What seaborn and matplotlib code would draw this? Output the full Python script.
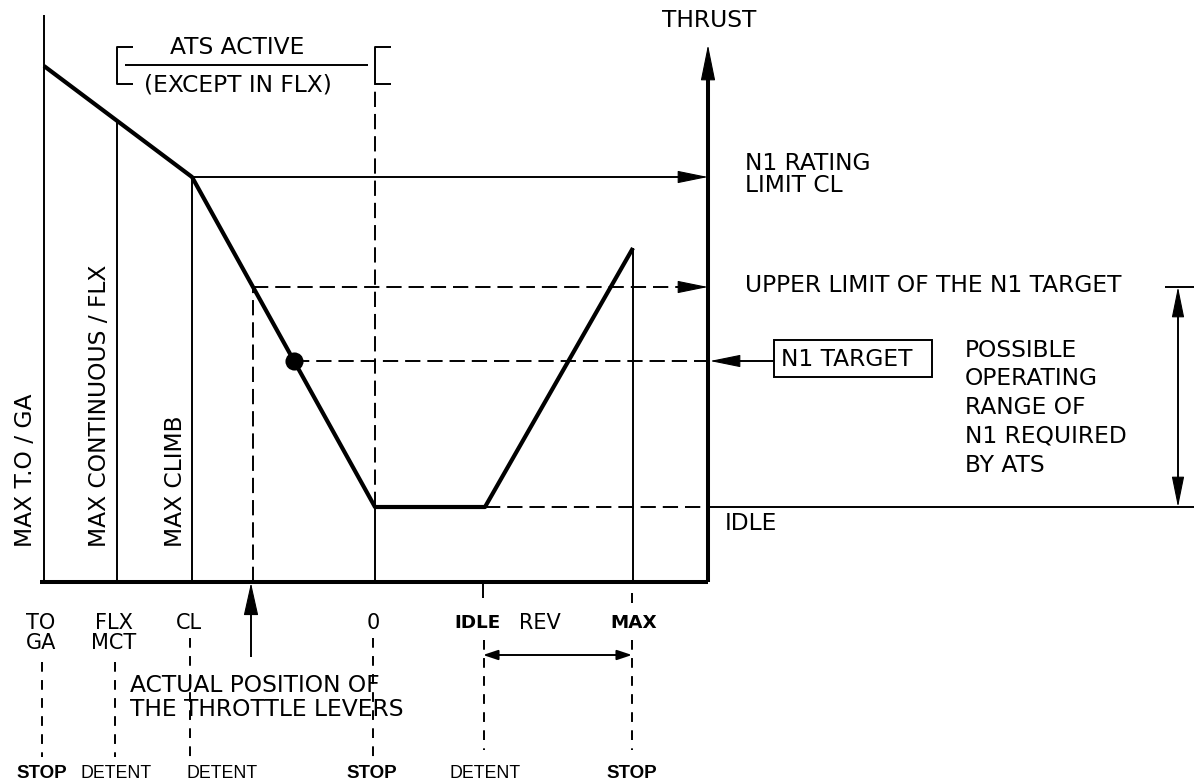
import numpy as np
import matplotlib
matplotlib.use("Agg")
import matplotlib.pyplot as plt
import seaborn as sns
import pandas as pd

# ---------------------------------------------------------------------------
# Data: throttle lever travel (horizontal units) and thrust (vertical units)
# ---------------------------------------------------------------------------
detent_pos = [44, 117, 192, 375, 485, 633]
detent_top = ["TO", "FLX", "CL", "0", "IDLE", "MAX"]
detent_sub = ["GA", "MCT", "", "", "", ""]
detent_kind = ["STOP", "DETENT", "DETENT", "STOP", "DETENT", "STOP"]

# Thrust schedule along the lever travel
curve_pos = [44, 192, 375, 485, 633]
curve_thrust = [516, 405, 75, 75, 334]

n1_rating_cl = 405
n1_upper_limit = 295
n1_target = 221
idle_thrust = 75

rotated_labels = ["MAX T.O / GA", "MAX CONTINUOUS / FLX", "MAX CLIMB"]
range_lines = ["POSSIBLE", "OPERATING", "RANGE OF", "N1 REQUIRED", "BY ATS"]

# ---------------------------------------------------------------------------
sns.set_theme(style="white")
plt.rcParams["font.family"] = ["DejaVu Sans"]
plt.rcParams["text.color"] = "black"
plt.rcParams["lines.scale_dashes"] = False
plt.rcParams["lines.solid_capstyle"] = "butt"

fig = plt.figure(figsize=(11.94, 7.84), dpi=100)
ax = fig.add_axes([0, 0, 1, 1])
ax.set_xlim(0, 1194)
ax.set_ylim(-202, 582)
ax.axis("off")

K = "black"
THIN = 1.4
THICK = 2.9
DASH = (0, (11, 5))
DASH_S = (0, (7, 6))
FS = 16.8
axis_x = 708
axis_top = 537


def thrust_at(x):
    return float(np.interp(x, curve_pos, curve_thrust))


def head(tip, direction, length=27, half=5.5, lw=0.8):
    """Filled arrow head whose tip is at `tip`, pointing along `direction`."""
    d = np.asarray(direction, float)
    d = d / np.hypot(*d)
    start = np.asarray(tip, float) - d * length
    ax.annotate("", xy=tip, xytext=tuple(start),
                arrowprops=dict(arrowstyle=f"-|>,head_length={length*0.72:.2f},head_width={half*0.72:.2f}",
                                mutation_scale=1, lw=lw, fc=K, ec=K,
                                shrinkA=0, shrinkB=0))


# Lever positions where the forward branch of the curve reaches a thrust level
fwd_thrust = curve_thrust[1:3][::-1]
fwd_pos = curve_pos[1:3][::-1]
lever_actual = float(np.interp(n1_upper_limit, fwd_thrust, fwd_pos))
target_pos = float(np.interp(n1_target, fwd_thrust, fwd_pos))

# Thin vertical detent lines above the lever axis
ax.plot([detent_pos[0]] * 2, [0, 567], color=K, lw=THIN)
for x in (detent_pos[1], detent_pos[2], detent_pos[3], detent_pos[5]):
    ax.plot([x, x], [0, thrust_at(x)], color=K, lw=THIN)

# Thrust curve
curve_df = pd.DataFrame({"lever": curve_pos, "thrust": curve_thrust})
sns.lineplot(data=curve_df, x="lever", y="thrust", sort=False, estimator=None,
             color=K, lw=3.0, ax=ax)

# Lever axis and thrust axis
ax.plot([40, axis_x], [0, 0], color=K, lw=THICK)
ax.plot([axis_x, axis_x], [0, axis_top - 30], color=K, lw=THICK)
head((axis_x, axis_top), (0, 1), length=32, half=6.5)

# ATS active bracket (from MCT detent to idle stop)
bx0, bx1 = detent_pos[1], detent_pos[3]
for bx in (bx0, bx1):
    ax.plot([bx + 16, bx, bx, bx + 16], [535, 535, 498, 498], color=K, lw=THIN)
ax.plot([bx0 + 8, bx1 - 7], [517, 517], color=K, lw=THIN)
ax.text(237, 535, "ATS ACTIVE", ha="center", va="center", fontsize=FS)
ax.text(238, 497, "(EXCEPT IN FLX)", ha="center", va="center", fontsize=FS)
ax.plot([bx1, bx1], [idle_thrust, 498], color=K, lw=THIN, ls=DASH)

# N1 rating limit CL
ax.plot([curve_pos[1], axis_x - 26], [n1_rating_cl] * 2, color=K, lw=THIN)
head((axis_x, n1_rating_cl), (1, 0))

# Upper limit of the N1 target
ax.plot([lever_actual, lever_actual], [0, n1_upper_limit], color=K, lw=THIN, ls=DASH)
ax.plot([lever_actual, axis_x - 26], [n1_upper_limit] * 2, color=K, lw=THIN, ls=DASH)
head((axis_x, n1_upper_limit), (1, 0))

# N1 target
ax.plot([target_pos, axis_x], [n1_target] * 2, color=K, lw=THIN, ls=DASH)
ax.plot([axis_x + 26, 774], [n1_target] * 2, color=K, lw=THIN)
head((axis_x + 2, n1_target), (-1, 0))
box = plt.Rectangle((774, n1_target - 16), 158, 37, fill=False, ec=K, lw=THIN)
ax.add_patch(box)
ax.text(781, n1_target + 2, "N1 TARGET", ha="left", va="center", fontsize=FS)
sns.scatterplot(x=[target_pos], y=[n1_target], s=170, color=K, edgecolor=K,
                linewidth=0, ax=ax, zorder=5)

# Idle line
ax.plot([curve_pos[3], axis_x], [idle_thrust] * 2, color=K, lw=THIN, ls=DASH)
ax.plot([axis_x, 1194], [idle_thrust] * 2, color=K, lw=THIN)
ax.text(725, 59, "IDLE", ha="left", va="center", fontsize=FS)

# Possible operating range of N1
rx = 1178
ax.plot([1165, 1194], [n1_upper_limit] * 2, color=K, lw=THIN)
ax.plot([rx, rx], [idle_thrust + 26, n1_upper_limit - 26], color=K, lw=THIN)
head((rx, n1_upper_limit), (0, 1))
head((rx, idle_thrust), (0, -1))
for i, line in enumerate(range_lines):
    ax.text(965, 232 - i * 28.8, line, ha="left", va="center", fontsize=FS)

# Right-hand labels
ax.text(axis_x + 1, 562, "THRUST", ha="center", va="center", fontsize=FS)
ax.text(745, 419, "N1 RATING", ha="left", va="center", fontsize=FS)
ax.text(745, 397, "LIMIT CL", ha="left", va="center", fontsize=FS)
ax.text(745, 297, "UPPER LIMIT OF THE N1 TARGET", ha="left", va="center", fontsize=FS)

# Rotated detent names
for x, lbl in zip([26, 100, 175], rotated_labels):
    ax.text(x, 35, lbl, rotation=90, rotation_mode="anchor", ha="left",
            va="center", fontsize=FS)

# ---------------------------------------------------------------------------
# Below the lever axis: detent names, guide lines and stop/detent types
# ---------------------------------------------------------------------------
seg_top = [-80, -80, -56, -56, -58, -58]
seg_bot = [-175, -175, -175, -175, -168, -168]
top_x = [41, 114, 189, 373, 478, 634]
kind_x = [42, 116, 222, 372, 485, 632]
for i, x in enumerate(detent_pos):
    xx = x - 2 if i < 4 else x - 1
    ax.plot([xx, xx], [seg_top[i], seg_bot[i]], color=K, lw=THIN, ls=DASH_S)
    bold = detent_top[i] in ("IDLE", "MAX")
    ax.text(top_x[i], -41, detent_top[i], ha="center", va="center",
            fontsize=13.2 if bold else 15,
            fontweight="bold" if bold else "normal")
    if detent_sub[i]:
        ax.text(top_x[i], -61, detent_sub[i], ha="center", va="center", fontsize=15)
    kind_bold = detent_kind[i] == "STOP"
    ax.text(kind_x[i], -191, detent_kind[i], ha="center", va="center",
            family="Liberation Sans",
            fontsize=13.5 if kind_bold else 12.8,
            fontweight="bold" if kind_bold else "normal")

# Idle detent tick and short guide above MAX
ax.plot([detent_pos[4] - 2] * 2, [0, -16], color=K, lw=THIN)
ax.plot([detent_pos[5] - 1] * 2, [-11, -21], color=K, lw=THIN)
ax.text(540, -41, "REV", ha="center", va="center", fontsize=15)

# Reverse range arrow
ax.annotate("", xy=(detent_pos[5] - 1, -73), xytext=(detent_pos[4] - 2, -73),
            arrowprops=dict(arrowstyle="<|-|>,head_length=9,head_width=3",
                            mutation_scale=1, lw=THIN, fc=K, ec=K,
                            shrinkA=0, shrinkB=0))

# Actual throttle lever position
ax.plot([lever_actual - 2] * 2, [-75, -28], color=K, lw=THIN)
head((lever_actual - 2, -1), (0, 1), length=29, half=6.5)
ax.text(130, -104, "ACTUAL POSITION OF", ha="left", va="center", fontsize=FS)
ax.text(130, -128, "THE THROTTLE LEVERS", ha="left", va="center", fontsize=FS)

fig.savefig("out.png", dpi=100, facecolor="white")
